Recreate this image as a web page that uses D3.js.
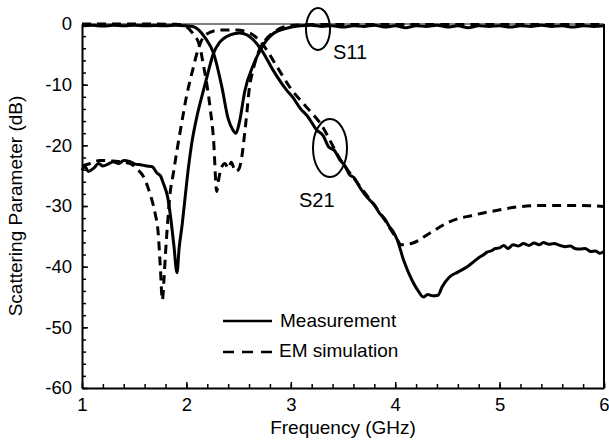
<!DOCTYPE html>
<html><head><meta charset="utf-8">
<script src="https://cdn.jsdelivr.net/npm/d3@7"></script>
<style>
body{margin:0;background:#fff;}
svg{display:block;font-family:"Liberation Sans",Arial,Helvetica,sans-serif;}
</style></head>
<body><svg id="c" width="609" height="448"></svg>
<script>
// ---- data (frequency in GHz, level in dB) ----
const s11MeasF = [1.0,1.1,1.2,1.3,1.4,1.5,1.6,1.7,1.8,1.9,2.0,2.06,2.12,2.18,2.26,2.34,2.40,2.44,2.475,2.51,2.56,2.64,2.72,2.83,2.96,3.09,3.2,3.3,3.4,3.5,3.6,3.7,3.8,3.9,4.0,4.1,4.2,4.3,4.4,4.5,4.6,4.7,4.8,4.9,5.0,5.1,5.2,5.3,5.4,5.5,5.6,5.7,5.8,5.9,6.0];
const s11MeasV = [-0.3,-0.2,-0.35,-0.2,-0.3,-0.2,-0.3,-0.25,-0.3,-0.2,-0.3,-0.4,-1.0,-2.3,-4.8,-10.4,-15.6,-17.3,-18,-16,-11,-6.8,-3.9,-1.6,-0.7,-0.3,-0.2,-0.4,-0.3,-0.5,-0.3,-0.4,-0.2,-0.5,-0.3,-0.6,-0.3,-0.4,-0.2,-0.5,-0.3,-0.6,-0.3,-0.4,-0.3,-0.5,-0.3,-0.4,-0.2,-0.4,-0.3,-0.5,-0.3,-0.4,-0.3];

const s11SimF = [1.0,1.5,1.9,1.97,2.06,2.13,2.16,2.20,2.23,2.26,2.29,2.31,2.34,2.37,2.40,2.43,2.47,2.50,2.53,2.555,2.58,2.60,2.64,2.69,2.75,2.85,2.99,3.2,3.5,4.0,5.0,6.0];
const s11SimV = [0,0,-0.05,-0.2,-1.5,-3.8,-6.5,-10.4,-14.2,-19,-27.6,-25.5,-23.5,-23.0,-23.8,-22.8,-24.3,-24.0,-22.0,-18.5,-14.5,-11,-7.5,-4.6,-2.8,-1.2,-0.3,-0.1,-0.1,-0.1,-0.1,-0.1];

const s21MeasF = [1.0,1.03,1.06,1.11,1.16,1.20,1.25,1.30,1.35,1.40,1.46,1.51,1.56,1.62,1.67,1.72,1.75,1.78,1.82,1.85,1.88,1.91,1.93,1.96,1.99,2.02,2.05,2.10,2.15,2.20,2.26,2.32,2.42,2.51,2.58,2.64,2.72,2.83,2.96,3.02,3.09,3.16,3.25,3.31,3.36,3.42,3.47,3.52,3.56,3.61,3.66,3.71,3.76,3.80,3.85,3.90,3.94,3.98,4.02,4.08,4.16,4.22,4.27,4.31,4.36,4.41,4.45,4.52,4.60,4.69,4.75,4.81,4.85,4.88,4.92,4.96,5.0,5.04,5.08,5.13,5.18,5.23,5.28,5.33,5.38,5.42,5.47,5.52,5.58,5.63,5.68,5.72,5.77,5.82,5.87,5.92,5.96,6.0];
const s21MeasV = [-24.1,-23.5,-24.3,-23.8,-23.0,-23.4,-23.1,-22.7,-23.0,-22.5,-22.7,-23.1,-23.2,-23.4,-23.5,-24.6,-25.0,-26.3,-28.5,-32,-36.5,-41,-37,-33.0,-28.2,-23.6,-19.8,-15.3,-11.8,-8.5,-4.8,-3.0,-1.8,-1.5,-1.8,-2.6,-4.3,-7.6,-10.9,-12.1,-13.9,-15.2,-17.5,-18.4,-20.2,-20.9,-22.4,-23.4,-24.8,-25.4,-26.9,-28.1,-29.1,-29.8,-31.2,-32.1,-33.3,-34.2,-35.6,-38.9,-42.2,-44.0,-45.0,-44.6,-44.8,-44.7,-43.3,-41.7,-40.9,-40.0,-39.2,-38.4,-38.0,-37.6,-37.4,-37.0,-36.9,-36.5,-37.0,-36.4,-36.6,-36.2,-36.5,-36.1,-36.4,-36.0,-36.3,-36.2,-36.5,-36.7,-36.6,-37.0,-37.1,-37.0,-37.5,-37.4,-37.8,-37.5];

const s21SimF = [1.0,1.08,1.17,1.3,1.46,1.52,1.59,1.65,1.70,1.73,1.75,1.77,1.785,1.80,1.82,1.84,1.875,1.91,1.96,2.0,2.06,2.11,2.18,2.32,2.48,2.61,2.68,2.75,2.87,2.99,3.15,3.28,3.47,3.66,3.88,4.0,4.06,4.17,4.33,4.52,4.75,4.98,5.2,5.45,5.77,6.0];
const s21SimV = [-23.4,-23.0,-22.5,-22.6,-23.0,-23.8,-25.2,-27.9,-31.2,-34.5,-40,-45.5,-42.2,-37.8,-32.8,-28.5,-24.6,-20.8,-15.8,-12,-7.6,-4.3,-1.8,-1.0,-1.0,-1.5,-2.4,-3.8,-7.1,-10.4,-13.7,-16.3,-22.2,-26.7,-31.8,-35.0,-36.4,-36.1,-34.5,-32.6,-31.5,-30.7,-30.1,-29.9,-29.9,-30.1];

const xTicks = [1,2,3,4,5,6];
const yTicks = [0,-10,-20,-30,-40,-50,-60];
const legendLabels = ["Measurement","EM simulation"];
const annotations = ["S11","S21"];

// ---- layout ----
const svg = d3.select("#c");
const L = 82, R = 604, T = 24, B = 388;
const x = d3.scaleLinear().domain([1,6]).range([L,R]);
const y = d3.scaleLinear().domain([-60,0]).range([B,T]);

// frame
svg.append("line").attr("x1",L).attr("x2",R).attr("y1",T).attr("y2",T).attr("stroke","#000").attr("stroke-width",1);
svg.append("line").attr("x1",R).attr("x2",R).attr("y1",T).attr("y2",B).attr("stroke","#000").attr("stroke-width",2);

// axes
const minorX = d3.range(1,6.001,0.2);
const minorY = d3.range(-60,0.001,2);
svg.append("g").attr("transform",`translate(0,${B})`)
  .call(d3.axisBottom(x).tickValues(minorX).tickSize(-4).tickSizeOuter(0).tickFormat(""))
  .call(g=>{g.select(".domain").remove();g.selectAll("line").attr("stroke-width",1.5);});
svg.append("g").attr("transform",`translate(${L},0)`)
  .call(d3.axisLeft(y).tickValues(minorY).tickSize(-4).tickSizeOuter(0).tickFormat(""))
  .call(g=>{g.select(".domain").remove();g.selectAll("line").attr("stroke-width",1.5);});

const xa = svg.append("g").attr("transform",`translate(0,${B})`)
  .call(d3.axisBottom(x).tickValues(xTicks).tickSize(-6).tickSizeOuter(0).tickPadding(10).tickFormat(d3.format("d")));
const ya = svg.append("g").attr("transform",`translate(${L},0)`)
  .call(d3.axisLeft(y).tickValues(yTicks).tickSize(-6).tickSizeOuter(0).tickPadding(10).tickFormat(d=>d===0?"0":"-"+Math.abs(d)));
[xa,ya].forEach(g=>{
  g.select(".domain").attr("stroke-width",2);
  g.selectAll(".tick line").attr("stroke-width",1.5);
  g.selectAll("text").attr("font-size",18.5).attr("font-family","Liberation Sans, Arial, sans-serif").attr("fill","#000");
});

// axis titles
svg.append("text").attr("x",(L+R)/2).attr("y",434).attr("text-anchor","middle")
  .attr("font-size",19).text("Frequency (GHz)");
svg.append("text").attr("transform",`translate(22,${(T+B)/2}) rotate(-90)`).attr("text-anchor","middle")
  .attr("font-size",19).text("Scattering Parameter (dB)");

// curves
const line = d3.line().x(d=>x(d[0])).y(d=>y(d[1])).curve(d3.curveMonotoneX);
const zip = (f,v)=>f.map((d,i)=>[d,v[i]]);
const series = [
  {f:s11SimF,v:s11SimV,dash:"9,6"},
  {f:s21SimF,v:s21SimV,dash:"9,6"},
  {f:s11MeasF,v:s11MeasV,dash:null},
  {f:s21MeasF,v:s21MeasV,dash:null}
];
series.forEach(s=>{
  svg.append("path").datum(zip(s.f,s.v)).attr("d",line)
    .attr("fill","none").attr("stroke","#000").attr("stroke-width",3)
    .attr("stroke-linejoin","round")
    .attr("stroke-dasharray",s.dash);
});

// annotations
svg.append("ellipse").attr("cx",318).attr("cy",29).attr("rx",12).attr("ry",21)
  .attr("fill","none").attr("stroke","#000").attr("stroke-width",2);
svg.append("text").attr("x",333).attr("y",59).attr("font-size",20).text(annotations[0]);
svg.append("ellipse").attr("cx",330).attr("cy",148).attr("rx",17).attr("ry",29)
  .attr("fill","none").attr("stroke","#000").attr("stroke-width",2);
svg.append("text").attr("x",299).attr("y",207).attr("font-size",20).text(annotations[1]);

// legend
const lg = svg.append("g");
lg.append("line").attr("x1",223).attr("x2",272).attr("y1",321).attr("y2",321).attr("stroke","#000").attr("stroke-width",2.5);
lg.append("line").attr("x1",223).attr("x2",272).attr("y1",352).attr("y2",352).attr("stroke","#000").attr("stroke-width",2.5).attr("stroke-dasharray","11,8");
lg.append("text").attr("x",280).attr("y",327).attr("font-size",19).text(legendLabels[0]);
lg.append("text").attr("x",279).attr("y",357).attr("font-size",19).text(legendLabels[1]);
</script></body></html>
